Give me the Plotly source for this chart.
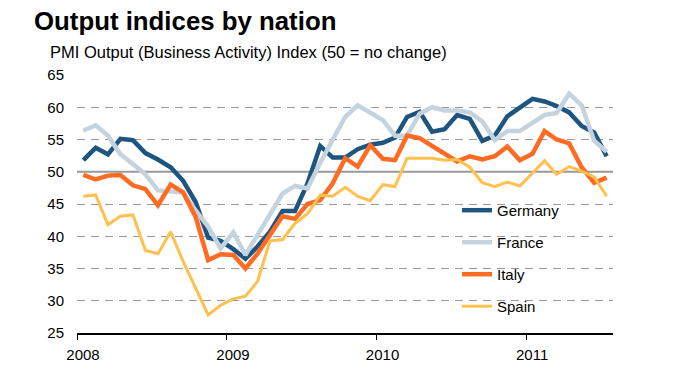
import plotly.graph_objects as go
import pandas as pd

# ---- data (monthly PMI output indices, Jan 2008 - Jul 2011) ----
months = pd.date_range("2008-01-01", periods=43, freq="MS")

germany = [51.8, 53.7, 52.7, 55.1, 54.9, 52.9, 51.9, 50.7, 48.6, 45.3,
           39.8, 39.3, 38.0, 36.5, 38.4, 40.7, 43.9, 43.9, 48.2, 54.0,
           52.2, 52.2, 53.5, 54.2, 54.5, 55.3, 58.5, 59.3, 56.2, 56.6,
           58.8, 58.2, 54.8, 55.6, 58.6, 60.0, 61.3, 60.9, 60.2, 59.2,
           57.1, 56.1, 52.4]
france = [56.4, 57.2, 55.6, 52.7, 51.2, 49.6, 47.1, 46.9, 46.8, 44.0,
          41.5, 38.1, 40.6, 37.1, 40.3, 43.3, 46.6, 47.8, 47.4, 51.4,
          55.0, 58.5, 60.3, 59.2, 58.0, 55.6, 55.6, 59.0, 60.0, 59.5,
          59.5, 59.2, 57.8, 54.9, 56.3, 56.3, 57.6, 58.8, 59.1, 62.1,
          60.3, 54.8, 53.1]
italy = [49.5, 48.8, 49.4, 49.5, 47.9, 47.3, 44.8, 48.0, 46.8, 43.0,
         36.3, 37.2, 37.1, 35.0, 37.3, 40.2, 43.1, 42.7, 45.0, 45.6,
         48.2, 52.1, 50.8, 54.1, 52.0, 51.8, 55.6, 55.2, 54.0, 52.9,
         51.6, 52.4, 51.9, 52.4, 53.9, 51.8, 52.8, 56.3, 55.0, 54.4,
         50.7, 48.3, 49.1]
spain = [46.2, 46.4, 41.8, 43.1, 43.3, 37.8, 37.3, 40.7, 36.1, 32.0,
         27.8, 29.3, 30.3, 30.7, 33.0, 39.3, 39.5, 42.0, 43.5, 46.4,
         46.2, 47.6, 46.2, 45.5, 48.0, 47.7, 52.1, 52.1, 52.1, 51.8,
         51.9, 50.7, 48.3, 47.7, 48.4, 47.8, 49.8, 51.7, 49.6, 50.8,
         50.1, 49.2, 46.2]

series_names = ["Germany", "France", "Italy", "Spain"]
series_values = [germany, france, italy, spain]
series_colors = ["#1D5480", "#C5D3DF", "#FF6B22", "#FFC04D"]
series_widths = [4.5, 4.5, 4.5, 3]

year_ticks = ["2008-01-01", "2009-01-01", "2010-01-01", "2011-01-01"]
year_labels = ["2008", "2009", "2010", "2011"]
y_ticks = [25, 30, 35, 40, 45, 50, 55, 60, 65]

FONT = "Liberation Sans, Arial, sans-serif"

fig = go.Figure()
for name, vals, col, w in zip(series_names, series_values, series_colors, series_widths):
    fig.add_trace(go.Scatter(
        x=months, y=vals, name=name, mode="lines",
        xperiod="M1", xperiodalignment="middle",
        line=dict(color=col, width=w),
        legendgroup=name,
    ))

# solid reference line at 50 (no change)
fig.add_hline(y=50, line=dict(color="#999999", width=2), layer="below")
# white legend panel hiding the gridlines behind the legend
fig.add_shape(type="rect", xref="paper", yref="paper",
              x0=0.651, x1=0.938, y0=0.05, y1=0.547,
              fillcolor="white", line=dict(width=0), layer="below")

fig.update_layout(
    width=678, height=383,
    margin=dict(l=69, r=73, t=67, b=58),
    paper_bgcolor="white", plot_bgcolor="white",
    font=dict(family=FONT, color="#000000", size=14),
    showlegend=True,
    legend=dict(
        x=0.709, y=0.539, xanchor="left", yanchor="top",
        bgcolor="rgba(255,255,255,0)", borderwidth=0,
        font=dict(size=15, family=FONT),
        tracegroupgap=9.5,
    ),
    annotations=[
        dict(text="<b>Output indices by nation</b>", xref="paper", yref="paper",
             x=-0.084, y=1.0, xanchor="left", yanchor="bottom", yshift=38,
             showarrow=False, font=dict(size=25.8, family=FONT, color="#000")),
        dict(text="PMI Output (Business Activity) Index (50 = no change)",
             xref="paper", yref="paper", x=-0.055, y=1.0, xanchor="left",
             yanchor="bottom", yshift=12, showarrow=False,
             font=dict(size=16.5, family=FONT, color="#000")),
    ],
)

fig.update_xaxes(
    type="date", range=["2008-01-01", "2011-08-01"],
    tickvals=year_ticks, ticktext=year_labels,
    showgrid=False, zeroline=False,
    showline=True, linecolor="#000000", linewidth=1.5,
    ticks="outside", ticklen=5, tickwidth=1, tickcolor="#000000",
    tickfont=dict(size=15, family=FONT),
    ticklabelshift=6, ticklabelstandoff=2,
)
fig.update_yaxes(
    range=[25, 65], tickvals=y_ticks,
    showgrid=True, gridcolor="#999999", gridwidth=1, griddash="8px,6px",
    zeroline=False, showline=False, ticks="",
    tickfont=dict(size=15, family=FONT),
    ticklabelstandoff=12,
)

fig.write_html("out.html")
